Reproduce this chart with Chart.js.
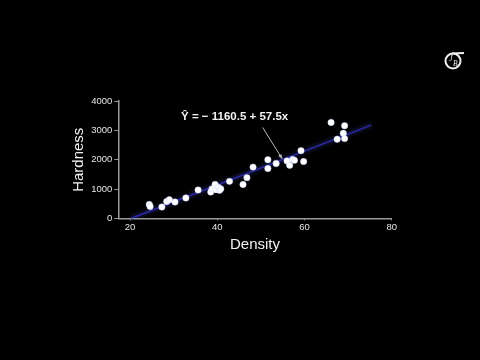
<!DOCTYPE html>
<html>
<head>
<meta charset="utf-8">
<script src="https://cdn.jsdelivr.net/npm/chart.js@4.4.1/dist/chart.umd.min.js"></script>
<style>
  html, body { margin: 0; padding: 0; background: #000; }
  #wrap { width: 480px; height: 360px; position: relative; }
</style>
</head>
<body>
<div id="wrap"><canvas id="c" width="480" height="360"></canvas></div>
<script>
// Data
const density = [24.4, 24.6, 27.3, 28.4, 29.0, 30.3, 32.8, 35.6, 38.5, 38.8, 39.5, 39.7, 40.3, 40.5, 40.8,
                 42.8, 45.9, 46.8, 48.2, 51.6, 51.6, 53.5, 56.0, 56.6, 57.3, 57.7, 59.2, 59.8,
                 66.1, 67.5, 68.9, 69.2, 69.2];
const hardness = [480, 410, 390, 580, 640, 560, 700, 970, 900, 1010, 1160, 980, 1060, 960, 1010,
                  1265, 1160, 1390, 1750, 2000, 1700, 1870, 1960, 1810, 2010, 1980, 2310, 1940,
                  3270, 2700, 2900, 3160, 2720];
const fitX = [20.2, 75.3];
const fitY = [0, 3180];
const xTicks = [20, 40, 60, 80];
const yTicks = [0, 1000, 2000, 3000, 4000];
const equationText = 'Ŷ = − 1160.5 + 57.5x';
const xTitle = 'Density';
const yTitle = 'Hardness';

const bgPlugin = {
  id: 'bg',
  beforeDraw(chart) {
    const ctx = chart.ctx;
    ctx.save();
    ctx.fillStyle = '#000';
    ctx.fillRect(0, 0, chart.width, chart.height);
    ctx.restore();
  },
  beforeDatasetDraw(chart, args) {
    if (args.index === 1) {
      chart.ctx.save();
      chart.ctx.shadowColor = 'rgba(70,70,200,0.9)';
      chart.ctx.shadowBlur = 4;
    }
  },
  afterDatasetDraw(chart, args) {
    if (args.index === 1) chart.ctx.restore();
  },
  afterDraw(chart) {
    const ctx = chart.ctx;
    const xs = chart.scales.x, ys = chart.scales.y;
    ctx.save();
    // equation label
    ctx.fillStyle = '#f2f2f2';
    ctx.font = 'bold 11.5px "Liberation Sans", Arial, sans-serif';
    ctx.textBaseline = 'middle';
    ctx.textAlign = 'left';
    ctx.fillText(equationText, xs.getPixelForValue(31.7), ys.getPixelForValue(3450));
    // arrow
    const x1 = xs.getPixelForValue(50.4), y1 = ys.getPixelForValue(3100);
    const x2 = xs.getPixelForValue(54.9), y2 = ys.getPixelForValue(2030);
    ctx.strokeStyle = '#b8b8b8';
    ctx.fillStyle = '#b8b8b8';
    ctx.lineWidth = 1;
    ctx.beginPath(); ctx.moveTo(x1, y1); ctx.lineTo(x2, y2); ctx.stroke();
    const ang = Math.atan2(y2 - y1, x2 - x1);
    ctx.beginPath();
    ctx.moveTo(x2, y2);
    ctx.lineTo(x2 - 5 * Math.cos(ang - 0.4), y2 - 5 * Math.sin(ang - 0.4));
    ctx.lineTo(x2 - 5 * Math.cos(ang + 0.4), y2 - 5 * Math.sin(ang + 0.4));
    ctx.closePath(); ctx.fill();
    // logo
    const cx = 453, cy = 61, r = 7.5;
    ctx.strokeStyle = '#f0f0f0';
    ctx.lineWidth = 2;
    ctx.beginPath(); ctx.arc(cx, cy, r, 0, Math.PI * 2); ctx.stroke();
    ctx.beginPath(); ctx.moveTo(cx - 1, cy - r); ctx.lineTo(cx + 11, cy - r - 0.5); ctx.stroke();
    ctx.fillStyle = '#f0f0f0';
    ctx.font = 'italic 7.5px "Liberation Serif", serif';
    ctx.textAlign = 'center';
    ctx.fillText('J', cx - 2.2, cy - 1.5);
    ctx.fillText('B', cx + 2.2, cy + 2.8);
    ctx.restore();
  }
};

const axisFont = { family: '"Liberation Sans", Arial, sans-serif', size: 9.5 };
const titleFont = { family: '"Liberation Sans", Arial, sans-serif', size: 15 };

new Chart(document.getElementById('c'), {
  type: 'scatter',
  data: {
    datasets: [
      {
        data: density.map((d, i) => ({ x: d, y: hardness[i] })),
        backgroundColor: '#ffffff',
        borderColor: 'rgba(200,210,255,0.9)',
        borderWidth: 0.5,
        pointRadius: 3.2,
        order: 0
      },
      {
        type: 'line',
        data: fitX.map((d, i) => ({ x: d, y: fitY[i] })),
        borderColor: '#2a2aa8',
        borderWidth: 1.5,
        pointRadius: 0,
        fill: false,
        order: 1
      }
    ]
  },
  options: {
    responsive: false,
    animation: false,
    events: [],
    layout: { padding: { left: 70, right: 88.3, top: 101, bottom: 106 } },
    plugins: { legend: { display: false }, tooltip: { enabled: false } },
    scales: {
      x: {
        type: 'linear', min: 17.3, max: 80,
        afterBuildTicks: s => { s.ticks = xTicks.map(v => ({ value: v })); },
        afterFit: s => { s.height = 35.5; },
        grid: { drawOnChartArea: false, drawTicks: true, tickLength: 2, color: '#9a9a9a' },
        border: { display: true, color: '#9a9a9a', width: 1.5 },
        ticks: { color: '#e6e6e6', font: axisFont, padding: 1, maxRotation: 0, callback: v => String(v) },
        title: { display: true, text: xTitle, color: '#f2f2f2', font: titleFont, padding: 0 }
      },
      y: {
        type: 'linear', min: 0, max: 4000,
        afterBuildTicks: s => { s.ticks = yTicks.map(v => ({ value: v })); },
        afterFit: s => { s.width = 48.3; },
        grid: { drawOnChartArea: false, drawTicks: true, tickLength: 4, color: '#9a9a9a' },
        border: { display: true, color: '#9a9a9a', width: 1.5 },
        ticks: { color: '#e6e6e6', font: axisFont, padding: 2, callback: v => String(v) },
        title: { display: true, text: yTitle, color: '#f2f2f2', font: titleFont, padding: 0 }
      }
    }
  },
  plugins: [bgPlugin]
});
</script>
</body>
</html>
